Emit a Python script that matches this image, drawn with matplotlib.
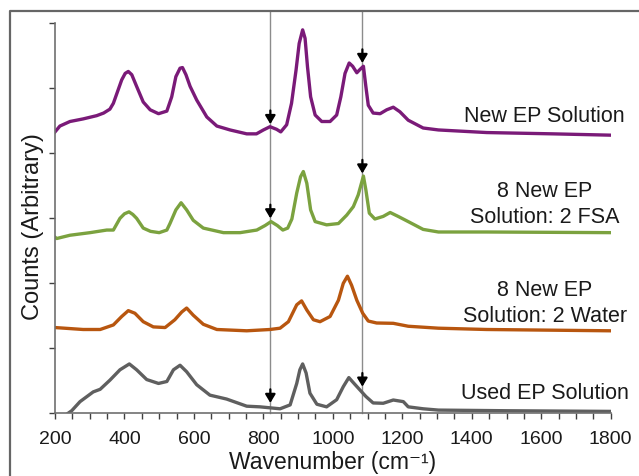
import matplotlib
matplotlib.use("Agg")
import matplotlib.pyplot as plt
from matplotlib.lines import Line2D
from matplotlib.ticker import MultipleLocator

plt.rcParams['font.family'] = ['Liberation Sans', 'DejaVu Sans']

# spectra (stacked with offsets, arbitrary units)
new_x = [200, 214, 243, 281, 320, 340, 358, 368, 378, 392, 402, 411, 421, 435, 454, 474, 498, 522,
         536, 548, 560, 567, 577, 589, 608, 637, 666, 704, 752, 780, 800, 819, 838, 850, 867, 881,
         894, 903, 913, 920, 927, 936, 949, 968, 992, 1011, 1023, 1035, 1047, 1057, 1069, 1078,
         1088, 1095, 1102, 1116, 1136, 1155, 1174, 1193, 1217, 1260, 1304, 1443, 1634, 1798]
new_y = [4.32, 4.41, 4.48, 4.52, 4.57, 4.61, 4.67, 4.76, 4.91, 5.12, 5.22, 5.25, 5.20, 5.02, 4.78,
         4.66, 4.60, 4.64, 4.86, 5.17, 5.30, 5.31, 5.20, 5.02, 4.81, 4.55, 4.41, 4.35, 4.29, 4.29,
         4.35, 4.40, 4.36, 4.32, 4.43, 4.76, 5.27, 5.68, 5.89, 5.76, 5.32, 4.86, 4.58, 4.48, 4.48,
         4.58, 4.86, 5.22, 5.38, 5.33, 5.23, 5.28, 5.33, 5.02, 4.73, 4.61, 4.60, 4.66, 4.70, 4.63,
         4.50, 4.38, 4.35, 4.31, 4.29, 4.27]

fsa_x = [200, 205, 243, 301, 349, 368, 387, 400, 413, 424, 435, 454, 475, 500, 522, 531, 548, 563,
         579, 598, 627, 685, 733, 781, 805, 822, 840, 856, 870, 882, 896, 907, 915, 925, 936, 949,
         982, 1016, 1040, 1059, 1073, 1088, 1095, 1105, 1121, 1145, 1165, 1188, 1217, 1260, 1304,
         1443, 1798]
fsa_y = [2.70, 2.68, 2.73, 2.77, 2.81, 2.81, 2.99, 3.06, 3.09, 3.05, 2.99, 2.84, 2.79, 2.77, 2.81,
         2.91, 3.12, 3.23, 3.12, 2.96, 2.84, 2.77, 2.77, 2.81, 2.88, 2.94, 2.88, 2.81, 2.84, 2.98,
         3.38, 3.63, 3.71, 3.53, 3.12, 2.94, 2.89, 2.91, 3.04, 3.17, 3.35, 3.64, 3.43, 3.07, 2.98,
         3.02, 3.08, 3.02, 2.94, 2.82, 2.78, 2.78, 2.77]

water_x = [200, 281, 330, 368, 392, 411, 430, 454, 483, 517, 545, 565, 579, 598, 627, 666, 752,
           819, 848, 872, 896, 910, 925, 944, 963, 992, 1016, 1030, 1042, 1054, 1069, 1086, 1102,
           1126, 1174, 1217, 1304, 1443, 1798]
water_y = [1.31, 1.28, 1.28, 1.35, 1.48, 1.57, 1.53, 1.40, 1.32, 1.31, 1.43, 1.55, 1.61, 1.50, 1.36,
           1.28, 1.26, 1.28, 1.30, 1.40, 1.66, 1.72, 1.58, 1.43, 1.40, 1.48, 1.73, 1.99, 2.10, 1.96,
           1.73, 1.53, 1.41, 1.38, 1.375, 1.33, 1.30, 1.28, 1.26]

used_x = [232, 248, 272, 310, 330, 358, 387, 414, 435, 464, 498, 522, 541, 560, 579, 608, 646, 694,
          752, 790, 848, 877, 896, 905, 913, 923, 934, 954, 982, 1011, 1030, 1046, 1061, 1078, 1095,
          1116, 1145, 1174, 1203, 1217, 1260, 1304, 1500, 1798]
used_y = [-0.03, 0.03, 0.17, 0.32, 0.36, 0.50, 0.66, 0.75, 0.66, 0.51, 0.45, 0.48, 0.66, 0.73, 0.63,
          0.43, 0.27, 0.21, 0.10, 0.09, 0.06, 0.12, 0.45, 0.66, 0.75, 0.61, 0.30, 0.13, 0.09, 0.20,
          0.40, 0.54, 0.45, 0.35, 0.25, 0.15, 0.145, 0.195, 0.17, 0.09, 0.06, 0.04, 0.03, 0.02]

labels = ['New EP Solution', '8 New EP\nSolution: 2 FSA', '8 New EP\nSolution: 2 Water',
          'Used EP Solution']
label_y = [4.55, 3.20, 1.68, 0.29]

# marker lines and arrows (arrow tip heights per series)
mark_x = [820, 1085]
arrow_tips = [(820, 4.44), (1085, 5.38), (820, 2.99), (1085, 3.68), (820, 0.15), (1085, 0.40)]

colors = ['#7a1a78', '#7ba23f', '#b8560f', '#5f5f5f']

fig = plt.figure(figsize=(6.39, 4.76), dpi=100)
ax = fig.add_axes([0.0861, 0.133, 0.8696, 0.8193])

series = [(new_x, new_y), (fsa_x, fsa_y), (water_x, water_y), (used_x, used_y)]
for (xs, ys), c in zip(series, colors):
    ax.plot(xs, ys, color=c, lw=2.4, solid_joinstyle='round')

for xm in mark_x:
    ax.plot([xm, xm], [0, 6.18], color='#8c8c8c', lw=1.0, clip_on=False, zorder=1)

for xa, ya in arrow_tips:
    ax.annotate('', xy=(xa, ya), xytext=(xa, ya + 0.21),
                arrowprops=dict(arrowstyle='-|>,head_width=0.3,head_length=0.5',
                                color='black', lw=1.6, shrinkA=0, shrinkB=0,
                                mutation_scale=10))

for lab, ly in zip(labels, label_y):
    ax.text(1610, ly, lab, ha='center', va='center', fontsize=15.5,
            color='#1a1a1a', linespacing=1.3)

ax.set_xlim(200, 1800)
ax.set_ylim(0, 6)
ax.xaxis.set_major_locator(MultipleLocator(200))
ax.xaxis.set_minor_locator(MultipleLocator(50))
ax.yaxis.set_major_locator(MultipleLocator(1))
ax.set_yticklabels([])
ax.tick_params(axis='x', which='both', direction='out', length=4, width=1,
               color='#404040', labelsize=14, pad=9, labelcolor='#1a1a1a')
ax.tick_params(axis='y', direction='out', length=4, width=1, color='#404040')
for s in ['top', 'right']:
    ax.spines[s].set_visible(False)
for s in ['left', 'bottom']:
    ax.spines[s].set_color('#707070')
    ax.spines[s].set_linewidth(1.2)

ax.set_xlabel('Wavenumber (cm\u207b\u00b9)', fontsize=16.5, color='#1a1a1a')
ax.xaxis.set_label_coords(0.5, -0.099)
ax.set_ylabel('Counts (Arbitrary)', fontsize=17, color='#1a1a1a')
ax.yaxis.set_label_coords(-0.02, 0.476)

# outer frame (only top and left visible in the crop)
fig.add_artist(Line2D([10 / 639, 10 / 639, 1.0], [0.0, 1 - 11 / 476, 1 - 11 / 476],
                      transform=fig.transFigure, color='#666666', lw=1.6))

fig.savefig('out.png', dpi=100)
